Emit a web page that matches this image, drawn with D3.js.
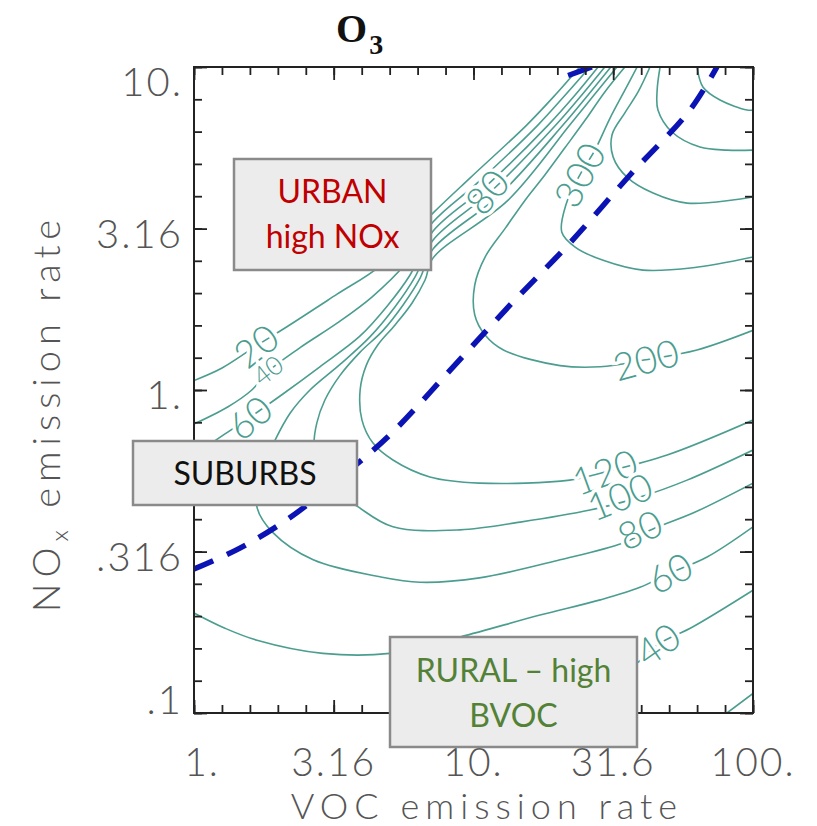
<!DOCTYPE html>
<html>
<head>
<meta charset="utf-8">
<script src="https://cdn.jsdelivr.net/npm/d3@7"></script>
<style>
  body { margin: 0; background: #fff; }
  svg text { font-family: Lato, "DejaVu Sans", sans-serif; }
  svg text.title { font-family: "Liberation Serif", "DejaVu Serif", serif; }
</style>
</head>
<body>
<svg id="chart" width="817" height="826"></svg>
<script>
// axis ticks
const xTicks = [1, 3.16, 10, 31.6, 100];
const xTickLabels = ["1.", "3.16", "10.", "31.6", "100."];
const yTicks = [0.1, 0.316, 1, 3.16, 10];
const yTickLabels = [".1", ".316", "1.", "3.16", "10."];

// O3 isopleths as [VOC, NOx] points
const o3_20hi = [[1.00,1.07],[1.26,1.17],[1.67,1.37],[2.15,1.57],[3.25,1.98],[4.63,2.42],[7.16,3.53],[9.71,4.53],[15.5,6.61],[19.6,8.19],[24.0,10.0]];
const o3_40hi = [[1.00,0.785],[1.32,0.886],[1.61,1.00],[1.84,1.14],[2.39,1.35],[3.25,1.61],[4.33,1.94],[5.69,2.45],[7.16,3.31],[10.4,4.40],[17.0,6.61],[21.3,8.19],[26.1,10.0]];
const o3_60hi = [[1.00,0.629],[1.26,0.721],[1.59,0.825],[2.08,0.972],[2.82,1.18],[3.93,1.47],[4.94,1.83],[5.93,2.27],[7.16,3.10],[11.1,4.28],[18.5,6.61],[23.1,8.19],[27.9,10.0]];
const o3_80 = [[100,0.515],[61.0,0.416],[44.6,0.374],[34.3,0.336],[20.4,0.298],[10.5,0.262],[6.44,0.254],[4.63,0.264],[2.67,0.298],[1.92,0.361],[1.68,0.434],[1.75,0.565],[1.95,0.700],[2.21,0.849],[2.60,1.00],[3.33,1.20],[4.26,1.46],[5.24,1.81],[6.18,2.24],[7.16,2.91],[11.7,4.16],[19.7,6.61],[24.4,8.19],[29.5,10.0]];
const o3_100 = [[100,0.652],[58.1,0.526],[39.4,0.466],[26.1,0.425],[14.7,0.390],[8.95,0.369],[5.15,0.377],[3.83,0.437],[3.20,0.490],[2.82,0.565],[2.69,0.676],[2.75,0.790],[2.94,0.931],[3.33,1.11],[3.93,1.31],[4.75,1.53],[5.59,1.83],[6.44,2.22],[7.16,2.73],[12.4,4.02],[20.9,6.61],[25.7,8.19],[31.0,10.0]];
const o3_120 = [[100,0.807],[49.3,0.629],[29.5,0.557],[22.1,0.526],[10.5,0.515],[6.98,0.538],[5.15,0.607],[4.37,0.685],[3.99,0.807],[3.93,1.00],[4.13,1.19],[4.55,1.38],[5.24,1.59],[6.03,1.86],[6.71,2.19],[7.16,2.56],[13.3,3.87],[22.1,6.61],[27.0,8.19],[32.6,10.0]];
const o3_200 = [[100,1.53],[63.0,1.33],[41.4,1.24],[28.4,1.18],[20.4,1.19],[12.8,1.33],[11.0,1.48],[10.1,1.71],[10.1,2.11],[11.0,2.58],[13.0,3.17],[15.3,3.87],[18.0,4.63],[21.2,5.61],[25.1,6.85],[29.5,8.37],[34.8,10.0]];
const o3_300 = [[100,2.58],[61.0,2.39],[40.4,2.35],[29.1,2.52],[23.1,2.77],[20.7,3.08],[21.4,3.74],[24.0,4.63],[27.2,5.53],[30.8,6.95],[34.8,8.48],[38.5,10.0]];
const o3_400 = [[100,3.96],[58.1,3.79],[43.9,4.07],[35.4,4.56],[31.6,5.26],[31.3,6.16],[34.8,7.21],[38.8,8.37],[42.8,10.0]];
const o3_500 = [[100,5.53],[80.7,5.53],[64.6,5.65],[51.3,6.29],[45.7,7.36],[45.4,8.48],[46.5,10.0]];
const o3_600 = [[100,7.36],[95.2,7.36],[76.2,7.90],[66.2,8.67],[63.1,10.0]];
const o3_60lo = [[1.00,0.204],[1.29,0.183],[1.68,0.168],[2.89,0.153],[5.02,0.153],[8.95,0.172],[17.3,0.201],[28.4,0.224],[39.4,0.245],[50.5,0.271],[68.5,0.304],[100,0.377]];
const o3_40lo = [[14.7,0.100],[24.0,0.118],[38.5,0.143],[45.7,0.163],[61.0,0.185],[100,0.240]];
const o3_20lo = [[80.7,0.100],[100,0.115]];

// contour labels: text, VOC, NOx, angle
const contourLabels = [
  ["20", 1.67, 1.37, -38],
  ["40", 1.84, 1.15, -38],
  ["60", 1.585, 0.82, -40],
  ["80", 11.2, 4.10, -50],
  ["300", 24.0, 4.63, -62],
  ["200", 41.4, 1.24, -15],
  ["120", 29.5, 0.557, -20],
  ["100", 33.4, 0.467, -22],
  ["80", 39.4, 0.369, -25],
  ["60", 50.5, 0.271, -28],
  ["40", 45.7, 0.163, -35]
];

// ridge line (dashed)
const ridge = [[1.00,0.279],[1.46,0.324],[2.20,0.402],[3.33,0.534],[5.02,0.726],[8.24,1.15],[13.5,1.83],[22.1,2.85],[36.3,4.63],[59.5,7.36],[74.3,10.0]];
const ridgeTop = [[21.8,9.41],[26.5,10.0]];

const svg = d3.select("#chart");
const pL = 194, pR = 753, pT = 67, pB = 713;
const x = d3.scaleLog().domain([1, 100]).range([pL, pR]);
const y = d3.scaleLog().domain([0.1, 10]).range([pB, pT]);

const teal = "#4b9d90";
const grey = "#555";

svg.append("clipPath").attr("id", "plot")
  .append("rect").attr("x", pL).attr("y", pT).attr("width", pR - pL).attr("height", pB - pT);

const line = d3.line().x(d => x(d[0])).y(d => y(d[1])).curve(d3.curveCatmullRom.alpha(0.5));

const plot = svg.append("g").attr("clip-path", "url(#plot)");

const contours = [o3_20hi, o3_40hi, o3_60hi, o3_80, o3_100, o3_120, o3_200, o3_300, o3_400, o3_500, o3_600, o3_60lo, o3_40lo, o3_20lo];
plot.selectAll("path.iso")
  .data(contours)
  .join("path")
  .attr("class", "iso")
  .attr("d", line)
  .attr("fill", "none")
  .attr("stroke", teal)
  .attr("stroke-width", 1.6);

plot.selectAll("text.clab")
  .data(contourLabels)
  .join("text")
  .attr("class", "clab")
  .attr("transform", d => `translate(${x(d[1])},${y(d[2])}) rotate(${d[3]})`)
  .attr("text-anchor", "middle")
  .attr("dy", "0.36em")
  .attr("font-size", (d, i) => i === 1 ? 26 : 38)
  .attr("font-weight", 300)
  .attr("fill", teal)
  .attr("stroke", "#fff")
  .attr("stroke-width", 7)
  .attr("paint-order", "stroke")
  .text(d => d[0]);

plot.append("path")
  .attr("d", line(ridge))
  .attr("fill", "none")
  .attr("stroke", "#0b13b5")
  .attr("stroke-width", 5.5)
  .attr("stroke-dasharray", "21 15");
plot.append("path")
  .attr("d", line(ridgeTop))
  .attr("fill", "none")
  .attr("stroke", "#0b13b5")
  .attr("stroke-width", 5.5);

// ticks on all four sides, pointing inwards
const minorX = d3.range(21).map(i => Math.pow(10, i / 10));
const minorY = d3.range(21).map(i => Math.pow(10, i / 10 - 1));
function tickSet(axis, vals, size, tr) {
  svg.append("g").attr("transform", tr)
    .call(axis.tickValues(vals).tickSize(-size).tickSizeOuter(0).tickFormat(""))
    .call(g => g.select(".domain").remove())
    .selectAll("line").attr("stroke", "#222").attr("stroke-width", 1.8);
}
tickSet(d3.axisBottom(x), minorX, 8, `translate(0,${pB})`);
tickSet(d3.axisTop(x), minorX, 8, `translate(0,${pT})`);
tickSet(d3.axisLeft(y), minorY, 8, `translate(${pL},0)`);
tickSet(d3.axisRight(y), minorY, 8, `translate(${pR},0)`);
tickSet(d3.axisBottom(x), xTicks, 13, `translate(0,${pB})`);
tickSet(d3.axisTop(x), xTicks, 13, `translate(0,${pT})`);
tickSet(d3.axisLeft(y), yTicks, 13, `translate(${pL},0)`);
tickSet(d3.axisRight(y), yTicks, 13, `translate(${pR},0)`);

svg.append("rect")
  .attr("x", pL).attr("y", pT).attr("width", pR - pL).attr("height", pB - pT)
  .attr("fill", "none").attr("stroke", "#222").attr("stroke-width", 2);

// tick labels
svg.selectAll("text.xl")
  .data(xTicks)
  .join("text")
  .attr("class", "xl")
  .attr("x", (d, i) => x(d) + (i === 0 ? 8 : 0))
  .attr("y", 776)
  .attr("text-anchor", "middle")
  .attr("font-size", 39)
  .attr("font-weight", 300)
  .attr("letter-spacing", 2)
  .attr("fill", grey)
  .text((d, i) => xTickLabels[i]);

svg.selectAll("text.yl")
  .data(yTicks)
  .join("text")
  .attr("class", "yl")
  .attr("x", 183)
  .attr("y", d => Math.min(700, Math.max(82, y(d) + 5)))
  .attr("dy", "0.36em")
  .attr("text-anchor", "end")
  .attr("font-size", 40)
  .attr("font-weight", 300)
  .attr("letter-spacing", 2)
  .attr("fill", grey)
  .text((d, i) => yTickLabels[i]);

// axis titles
svg.append("text")
  .attr("x", 487).attr("y", 819)
  .attr("text-anchor", "middle")
  .attr("font-size", 36).attr("font-weight", 300)
  .attr("letter-spacing", 6)
  .attr("fill", grey)
  .text("VOC emission rate");

const yt = svg.append("text")
  .attr("transform", "translate(60,413) rotate(-90)")
  .attr("text-anchor", "middle")
  .attr("font-size", 38).attr("font-weight", 300)
  .attr("letter-spacing", 6)
  .attr("fill", grey);
yt.append("tspan").text("NO");
yt.append("tspan").attr("font-size", 24).attr("dy", 8).text("x");
yt.append("tspan").attr("dy", -8).text(" emission rate");

// title
const tt = svg.append("text")
  .attr("class", "title")
  .attr("x", 336).attr("y", 42)
  .attr("font-size", 40)
  .attr("font-weight", "bold")
  .attr("fill", "#111");
tt.append("tspan").text("O");
tt.append("tspan").attr("font-size", 28).attr("dy", 12).attr("dx", 2).text("3");

// region boxes
const boxes = [
  { x: 234, y: 159, w: 197, h: 111, color: "#c00000", lines: ["URBAN", "high NOx"], base: [203, 248] },
  { x: 133, y: 441, w: 224, h: 64, color: "#111", lines: ["SUBURBS"], base: [485] },
  { x: 390, y: 637, w: 247, h: 110, color: "#538135", lines: ["RURAL \u2013 high", "BVOC"], base: [682, 727] }
];
boxes.forEach(b => {
  svg.append("rect")
    .attr("x", b.x).attr("y", b.y).attr("width", b.w).attr("height", b.h)
    .attr("fill", "#ececec").attr("stroke", "#8a8a8a").attr("stroke-width", 2.5);
  b.lines.forEach((t, i) => {
    svg.append("text")
      .attr("x", b.x + b.w / 2).attr("y", b.base[i])
      .attr("text-anchor", "middle")
      .attr("font-size", 32)
      .attr("fill", b.color)
      .text(t);
  });
});
</script>
</body>
</html>
